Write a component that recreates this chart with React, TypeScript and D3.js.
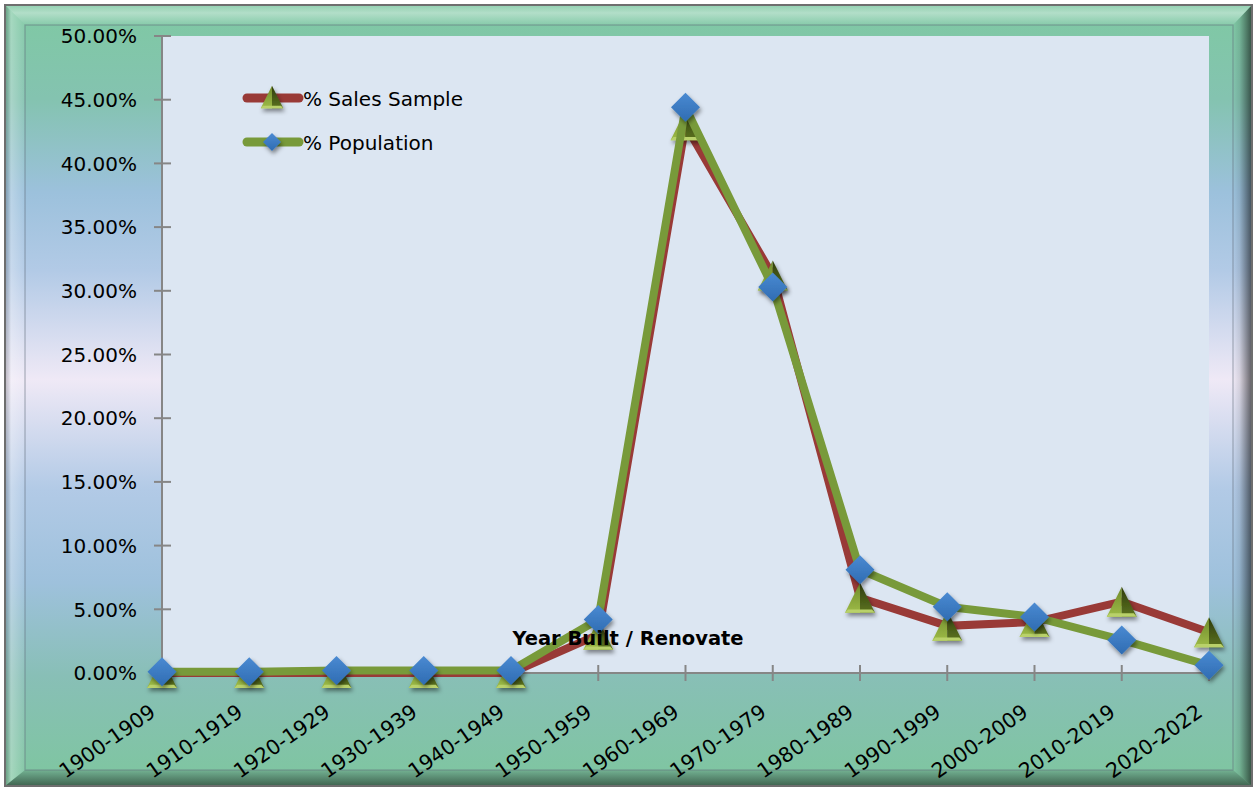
import React from 'react';
import * as d3 from 'd3';

// Share of properties by year built / renovated
const categories = [
  '1900-1909', '1910-1919', '1920-1929', '1930-1939', '1940-1949', '1950-1959',
  '1960-1969', '1970-1979', '1980-1989', '1990-1999', '2000-2009', '2010-2019', '2020-2022',
];
const salesSample = [0, 0, 0, 0, 0, 3.0, 43.0, 31.2, 5.9, 3.7, 4.0, 5.6, 3.2];
const population = [0.1, 0.1, 0.2, 0.2, 0.2, 4.2, 44.4, 30.3, 8.1, 5.2, 4.4, 2.6, 0.6];
const yTicks = [0, 5, 10, 15, 20, 25, 30, 35, 40, 45, 50];
const seriesNames = ['% Sales Sample', '% Population'];
const axisTitle = 'Year Built / Renovate';

const W = 1255;
const H = 789;
const plot = { left: 162, right: 1209, top: 36, bottom: 673 };
const FONT = '"DejaVu Sans", Verdana, sans-serif';
const RED = '#993a37';
const GREEN = '#789a3a';

function Triangle({ x, y, s = 1 }: { x: number; y: number; s?: number }) {
  const h = 15 * s;
  const b = 15 * s;
  return (
    <g transform={`translate(${x},${y})`} filter="url(#mshadow)">
      <polygon points={`0,${-h} ${-b},${h} 0,${h}`} fill="url(#triL)" />
      <polygon points={`0,${-h} 0,${h} ${b},${h}`} fill="url(#triR)" />
      <polygon
        points={`${-b * 0.8},${h * 0.78} ${b * 0.8},${h * 0.78} ${b},${h} ${-b},${h}`}
        fill="#b9d16a"
      />
    </g>
  );
}

function Diamond({ x, y, s = 1 }: { x: number; y: number; s?: number }) {
  const r = 14.5 * s;
  return (
    <g transform={`translate(${x},${y})`} filter="url(#mshadow)">
      <polygon points={`0,${-r} ${r},0 0,${r} ${-r},0`} fill="url(#diaFill)" />
    </g>
  );
}

export default function App() {
  const x = d3.scalePoint<string>().domain(categories).range([plot.left, plot.right]);
  const y = d3.scaleLinear().domain([0, 50]).range([plot.bottom, plot.top]);
  const line = d3
    .line<number>()
    .x((_, i) => x(categories[i]) as number)
    .y((d) => y(d));
  const fmt = (v: number) => d3.format('.2f')(v) + '%';

  return (
    <svg
      width={W}
      height={H}
      style={{ position: 'fixed', left: 0, top: 0, background: '#ffffff' }}
    >
      <defs>
        <linearGradient id="frameBg" x1="0" y1="0" x2="0" y2="1">
          <stop offset="0" stopColor="#7fc9a3" />
          <stop offset="0.12" stopColor="#84c3b0" />
          <stop offset="0.24" stopColor="#9cc1dc" />
          <stop offset="0.34" stopColor="#b2cae6" />
          <stop offset="0.48" stopColor="#efe9f6" />
          <stop offset="0.62" stopColor="#b2cae6" />
          <stop offset="0.74" stopColor="#9ec1dc" />
          <stop offset="0.86" stopColor="#88bfb6" />
          <stop offset="1" stopColor="#7ec69f" />
        </linearGradient>
        <linearGradient id="rightShade" x1="0" y1="0" x2="1" y2="0">
          <stop offset="0" stopColor="#000" stopOpacity="0" />
          <stop offset="0.35" stopColor="#000" stopOpacity="0.1" />
          <stop offset="1" stopColor="#000" stopOpacity="0.6" />
        </linearGradient>
        <linearGradient id="bottomShade" x1="0" y1="0" x2="0" y2="1">
          <stop offset="0" stopColor="#000" stopOpacity="0.1" />
          <stop offset="1" stopColor="#000" stopOpacity="0.5" />
        </linearGradient>
        <linearGradient id="topShine" x1="0" y1="0" x2="0" y2="1">
          <stop offset="0" stopColor="#fff" stopOpacity="0.15" />
          <stop offset="0.4" stopColor="#fff" stopOpacity="0.4" />
          <stop offset="1" stopColor="#fff" stopOpacity="0.05" />
        </linearGradient>
        <linearGradient id="leftShine" x1="0" y1="0" x2="1" y2="0">
          <stop offset="0" stopColor="#000" stopOpacity="0.2" />
          <stop offset="0.3" stopColor="#fff" stopOpacity="0.3" />
          <stop offset="1" stopColor="#fff" stopOpacity="0.05" />
        </linearGradient>
        <linearGradient id="triL" x1="0" y1="0" x2="0" y2="1">
          <stop offset="0" stopColor="#6f8a2a" />
          <stop offset="1" stopColor="#9dbb48" />
        </linearGradient>
        <linearGradient id="triR" x1="0" y1="0" x2="0" y2="1">
          <stop offset="0" stopColor="#2e3a0c" />
          <stop offset="1" stopColor="#5c7420" />
        </linearGradient>
        <linearGradient id="diaFill" x1="0" y1="0" x2="0" y2="1">
          <stop offset="0" stopColor="#4a8ad2" />
          <stop offset="1" stopColor="#2f6cb2" />
        </linearGradient>
        <filter id="mshadow" x="-50%" y="-50%" width="200%" height="200%">
          <feDropShadow dx="1.5" dy="3" stdDeviation="2" floodColor="#000" floodOpacity="0.45" />
        </filter>
      </defs>

      {/* beveled frame */}
      <rect x={5} y={5} width={1247} height={781} fill="url(#frameBg)" />
      <polygon points="5,5 1252,5 1233,25 25,25" fill="url(#topShine)" />
      <polygon points="5,5 25,25 25,770 5,786" fill="url(#leftShine)" />
      <polygon points="1233,25 1252,5 1252,786 1233,770" fill="url(#rightShade)" />
      <polygon points="25,770 1233,770 1252,786 5,786" fill="url(#bottomShade)" />
      <rect x={5} y={5} width={1247} height={781} fill="none" stroke="#6e6e6e" strokeWidth={2} />
      <rect
        x={25}
        y={25}
        width={1208}
        height={745}
        fill="none"
        stroke="#5f6d7a"
        strokeOpacity={0.45}
        strokeWidth={1.3}
      />

      {/* plot area */}
      <rect
        x={plot.left}
        y={plot.top}
        width={plot.right - plot.left}
        height={plot.bottom - plot.top}
        fill="#dce6f2"
      />

      {/* y axis */}
      <line x1={plot.left} x2={plot.left} y1={plot.top} y2={plot.bottom} stroke="#868686" strokeWidth={2} />
      {yTicks.map((t) => (
        <g key={`y${t}`}>
          <line x1={plot.left - 8} x2={plot.left + 9} y1={y(t)} y2={y(t)} stroke="#868686" strokeWidth={2} />
          <text
            x={137}
            y={y(t)}
            dy="0.36em"
            textAnchor="end"
            fontFamily={FONT}
            fontSize={20}
            fill="#000"
          >
            {fmt(t)}
          </text>
        </g>
      ))}

      {/* x axis */}
      <line x1={plot.left} x2={plot.right} y1={plot.bottom} y2={plot.bottom} stroke="#868686" strokeWidth={2} />
      {categories.map((c) => (
        <g key={c}>
          <line
            x1={x(c)}
            x2={x(c)}
            y1={plot.bottom - 8}
            y2={plot.bottom + 8}
            stroke="#868686"
            strokeWidth={2}
          />
          <text
            transform={`translate(${(x(c) as number) - 5},${715}) rotate(-35)`}
            textAnchor="end"
            fontFamily={FONT}
            fontSize={20.5}
            fill="#000"
          >
            {c}
          </text>
        </g>
      ))}

      {/* series */}
      <path
        d={line(salesSample) || ''}
        fill="none"
        stroke={RED}
        strokeWidth={8}
        strokeLinejoin="miter"
        strokeLinecap="butt"
      />
      {salesSample.map((v, i) => (
        <Triangle key={`t${i}`} x={x(categories[i]) as number} y={y(v)} />
      ))}
      <path
        d={line(population) || ''}
        fill="none"
        stroke={GREEN}
        strokeWidth={8}
        strokeLinejoin="miter"
        strokeLinecap="butt"
      />
      {population.map((v, i) => (
        <Diamond key={`d${i}`} x={x(categories[i]) as number} y={y(v)} />
      ))}

      {/* legend */}
      <g>
        <line x1={247} x2={299} y1={98} y2={98} stroke={RED} strokeWidth={9} strokeLinecap="round" />
        <Triangle x={272} y={97} s={0.75} />
        <text x={303} y={106} fontFamily={FONT} fontSize={20} fill="#000">
          {seriesNames[0]}
        </text>
        <line x1={247} x2={299} y1={142} y2={142} stroke={GREEN} strokeWidth={9} strokeLinecap="round" />
        <Diamond x={272} y={142} s={0.62} />
        <text x={303} y={150} fontFamily={FONT} fontSize={20} fill="#000">
          {seriesNames[1]}
        </text>
      </g>

      {/* axis title */}
      <text
        x={628}
        y={645}
        textAnchor="middle"
        fontFamily={FONT}
        fontSize={19.5}
        fontWeight="bold"
        fill="#000"
      >
        {axisTitle}
      </text>
    </svg>
  );
}
